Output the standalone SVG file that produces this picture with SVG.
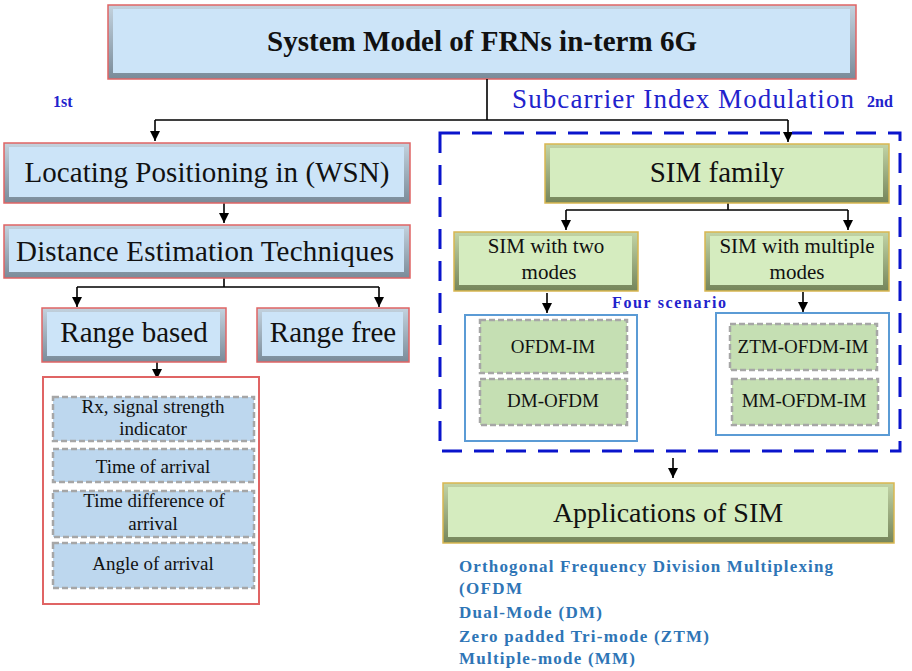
<svg xmlns="http://www.w3.org/2000/svg" width="912" height="671" viewBox="0 0 912 671">
<defs>
<marker id="arr" markerWidth="10" markerHeight="12" refX="10" refY="5" orient="auto" markerUnits="userSpaceOnUse" viewBox="0 0 10 10">
<path d="M0,0 L10,5 L0,10 Z" fill="#000"/>
</marker>
<linearGradient id="bb" x1="0" y1="0" x2="0" y2="1">
<stop offset="0" stop-color="#c3d2de"/><stop offset="1" stop-color="#7a8b99"/>
</linearGradient>
<linearGradient id="gb" x1="0" y1="0" x2="0" y2="1">
<stop offset="0" stop-color="#c2d4a6"/><stop offset="1" stop-color="#75855a"/>
</linearGradient>
</defs>
<style>
.bo{fill:url(#bb);stroke:#e06464;stroke-width:1.5}
.bf{fill:#cce4f8}
.go{fill:url(#gb);stroke:#d9b750;stroke-width:1.5}
.gf{fill:#d5ecbf}
.t{font-family:'Liberation Serif','Tinos','Noto Serif','DejaVu Serif','FreeSerif','Times New Roman',Times,serif;fill:#111;text-anchor:middle}
.tb{font-weight:bold}
.di{fill:#bdd7ee;stroke:#a6a6a6;stroke-width:2.5;stroke-dasharray:6,3}
.dg{fill:#c5dfb3;stroke:#a6a6a6;stroke-width:2.5;stroke-dasharray:6,3}
.c{fill:none;stroke:#000;stroke-width:1.6}
.lst{font-family:'Liberation Serif','Tinos','Noto Serif','DejaVu Serif','FreeSerif','Times New Roman',Times,serif;font-weight:bold;font-size:17px;fill:#2e75b6}
.blu{font-family:'Liberation Serif','Tinos','Noto Serif','DejaVu Serif','FreeSerif','Times New Roman',Times,serif;fill:#2222cc}
</style>
<rect x="0" y="0" width="912" height="671" fill="#fff"/>

<g id="top">
<rect class="bo" x="108" y="5" width="748" height="74"/>
<rect class="bf" x="113" y="9" width="737" height="64"/>
<text class="t tb" x="482" y="51" font-size="29" textLength="430">System Model of FRNs in-term 6G</text>
</g>

<g id="labels">
<text class="blu" x="53" y="107" font-size="16" font-weight="bold">1st</text>
<text class="blu" x="867" y="107" font-size="16" font-weight="bold">2nd</text>
<text class="blu" x="512" y="108" font-size="27" textLength="342">Subcarrier  Index Modulation</text>
<text class="blu" x="612" y="308" font-size="16" font-weight="bold" textLength="114">Four scenario</text>
</g>

<g id="connectors">
<path class="c" d="M487,79 V120 M155,120 H788"/>
<path class="c" d="M155,120 V141" marker-end="url(#arr)"/>
<path class="c" d="M788,120 V142" marker-end="url(#arr)"/>
<path class="c" d="M224,203 V223" marker-end="url(#arr)"/>
<path class="c" d="M224,278 V287 M77,287 H379"/>
<path class="c" d="M77,287 V307" marker-end="url(#arr)"/>
<path class="c" d="M379,287 V307" marker-end="url(#arr)"/>
<path class="c" d="M157,362 V379" marker-end="url(#arr)"/>
<path class="c" d="M728,203 V210 M566,210 H848"/>
<path class="c" d="M566,210 V230" marker-end="url(#arr)"/>
<path class="c" d="M848,210 V230" marker-end="url(#arr)"/>
<path class="c" d="M547,293 V313" marker-end="url(#arr)"/>
<path class="c" d="M803,292 V312" marker-end="url(#arr)"/>
<path class="c" d="M673,458 V478" marker-end="url(#arr)"/>
</g>

<g id="locating">
<rect class="bo" x="4" y="143" width="406" height="60"/>
<rect class="bf" x="9" y="147" width="395" height="50"/>
<text class="t" x="207" y="182" font-size="29" textLength="365">Locating Positioning in (WSN)</text>
</g>
<g id="distance">
<rect class="bo" x="4" y="225" width="406" height="53"/>
<rect class="bf" x="9" y="229" width="395" height="43"/>
<text class="t" x="205" y="261" font-size="29" textLength="378">Distance Estimation Techniques</text>
</g>
<g id="rangebased">
<rect class="bo" x="42" y="308" width="184" height="54"/>
<rect class="bf" x="47" y="312" width="173" height="44"/>
<text class="t" x="134" y="342" font-size="29">Range based</text>
</g>
<g id="rangefree">
<rect class="bo" x="257" y="308" width="152" height="54"/>
<rect class="bf" x="262" y="312" width="141" height="44"/>
<text class="t" x="333" y="342" font-size="29">Range free</text>
</g>

<g id="rangelist">
<rect x="43" y="377" width="216" height="227" fill="#fff" stroke="#e06464" stroke-width="2"/>
<rect class="di" x="53" y="397" width="201" height="44"/>
<text class="t" x="153" y="413" font-size="19">Rx, signal strength</text>
<text class="t" x="153" y="435" font-size="19">indicator</text>
<rect class="di" x="53" y="449" width="201" height="33"/>
<text class="t" x="153" y="473" font-size="19">Time of arrival</text>
<rect class="di" x="53" y="491" width="201" height="46"/>
<text class="t" x="154" y="507" font-size="19">Time difference of</text>
<text class="t" x="153" y="530" font-size="19">arrival</text>
<rect class="di" x="53" y="543" width="201" height="45"/>
<text class="t" x="153" y="570" font-size="19">Angle of arrival</text>
</g>

<g id="simgroup">
<rect x="440" y="133" width="460" height="318" fill="none" stroke="#0a14cc" stroke-width="3" stroke-dasharray="20,12"/>
</g>

<g id="simfamily">
<rect class="go" x="545" y="144" width="344" height="59"/>
<rect class="gf" x="550" y="148" width="333" height="49"/>
<text class="t" x="717" y="182" font-size="29">SIM family</text>
</g>
<g id="simtwo">
<rect class="go" x="454" y="232" width="184" height="59"/>
<rect class="gf" x="459" y="236" width="173" height="49"/>
<text class="t" x="546" y="253" font-size="21">SIM with two</text>
<text class="t" x="549" y="279" font-size="21">modes</text>
</g>
<g id="simmulti">
<rect class="go" x="705" y="232" width="184" height="59"/>
<rect class="gf" x="710" y="236" width="173" height="49"/>
<text class="t" x="797" y="253" font-size="21">SIM with multiple</text>
<text class="t" x="797" y="279" font-size="21">modes</text>
</g>

<g id="twomodes">
<rect x="465" y="315" width="172" height="126" fill="#fff" stroke="#5b9bd5" stroke-width="2"/>
<rect class="dg" x="480" y="320" width="147" height="53"/>
<text class="t" x="553" y="353" font-size="19">OFDM-IM</text>
<rect class="dg" x="480" y="379" width="147" height="46"/>
<text class="t" x="553" y="407" font-size="19">DM-OFDM</text>
</g>
<g id="multimodes">
<rect x="716" y="313" width="173" height="122" fill="#fff" stroke="#5b9bd5" stroke-width="2"/>
<rect class="dg" x="730" y="324" width="147" height="46"/>
<text class="t" x="803" y="353" font-size="19">ZTM-OFDM-IM</text>
<rect class="dg" x="732" y="379" width="146" height="46"/>
<text class="t" x="804" y="407" font-size="19">MM-OFDM-IM</text>
</g>

<g id="applications">
<rect class="go" x="443" y="483" width="451" height="60"/>
<rect class="gf" x="448" y="487" width="440" height="50"/>
<text class="t" x="668" y="522" font-size="28">Applications of SIM</text>
</g>

<g id="applist">
<text class="lst" x="459" y="572" textLength="374">Orthogonal Frequency Division Multiplexing</text>
<text class="lst" x="459" y="594" textLength="63">(OFDM</text>
<text class="lst" x="459" y="618" textLength="143">Dual-Mode (DM)</text>
<text class="lst" x="459" y="642" textLength="250">Zero padded Tri-mode (ZTM)</text>
<text class="lst" x="459" y="664" textLength="176">Multiple-mode (MM)</text>
</g>
</svg>
